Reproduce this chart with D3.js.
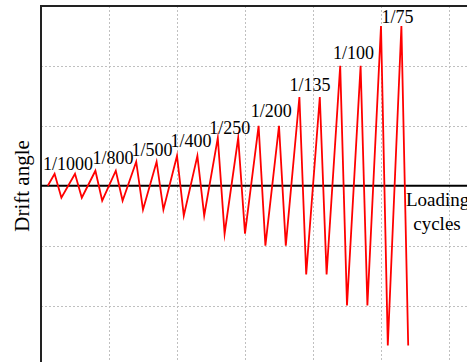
<!DOCTYPE html>
<html>
<head>
<meta charset="utf-8">
<script src="https://cdn.jsdelivr.net/npm/d3@7"></script>
<style>
  body { margin: 0; background: #fff; }
  svg { display: block; }
  .grid line { stroke: #c0c0c0; stroke-width: 1; stroke-dasharray: 2,2; }
  text { font-family: "Liberation Serif", "Times New Roman", serif; fill: #000; }
</style>
</head>
<body>
<div id="chart"></div>
<script>
// drift levels (two cycles each)
const levelNames = ['1/1000', '1/800', '1/500', '1/400', '1/250', '1/200', '1/135', '1/100', '1/75'];
const levelValues = [1 / 1000, 1 / 800, 1 / 500, 1 / 400, 1 / 250, 1 / 200, 1 / 135, 1 / 100, 1 / 75];
const cyclesPerLevel = 2;
// time axis: start, first peak, spacing between cycles, peak→trough lag
const tStart = 0.1;
const tFirstPeak = 0.2;
const tCycle = 0.3;
const tLag = 0.1;
const xGrid = [1, 2, 3, 4, 5, 6];
const yGrid = [-0.01, -0.005, 0.005, 0.01];

// label nudges in px relative to the first peak of each level (layout only)
const labelDx = [-11.6, -3, -4.7, -6.4, -8.5, -7.8, -9.9, -7.2, 0.4];
const labelDy = [-3.7, -6.4, -5.7, -9, -3.7, -9.2, -6, -6.6, -3.2];

const W = 467, H = 362;
const marginLeft = 41, marginTop = 6;

const svg = d3.select('#chart').append('svg')
  .attr('width', W)
  .attr('height', H);

const x = d3.scaleLinear().domain([0, 7]).range([marginLeft, marginLeft + 68 * 7]);
const y = d3.scaleLinear().domain([-0.015, 0.015]).range([365.4, marginTop]);

// build the loading history
const points = [{ t: tStart, v: 0 }];
levelValues.forEach((v, i) => {
  for (let c = 0; c < cyclesPerLevel; c++) {
    const k = i * cyclesPerLevel + c;
    const tp = tFirstPeak + k * tCycle;
    points.push({ t: tp, v: v });
    points.push({ t: tp + tLag, v: -v });
  }
});

// grid
const grid = svg.append('g').attr('class', 'grid');
grid.selectAll('.gx').data(xGrid).enter().append('line')
  .attr('x1', d => Math.round(x(d)) + 0.5).attr('x2', d => Math.round(x(d)) + 0.5)
  .attr('y1', marginTop).attr('y2', H);
grid.selectAll('.gy').data(yGrid).enter().append('line')
  .attr('x1', marginLeft).attr('x2', W)
  .attr('y1', d => Math.round(y(d)) + 0.5).attr('y2', d => Math.round(y(d)) + 0.5);

// frame
svg.append('line')
  .attr('x1', marginLeft).attr('x2', W)
  .attr('y1', marginTop).attr('y2', marginTop)
  .attr('stroke', '#222').attr('stroke-width', 2);
svg.append('line')
  .attr('x1', marginLeft).attr('x2', marginLeft)
  .attr('y1', marginTop - 1).attr('y2', H)
  .attr('stroke', '#222').attr('stroke-width', 2);

// zero axis
svg.append('line')
  .attr('x1', marginLeft).attr('x2', W)
  .attr('y1', y(0)).attr('y2', y(0))
  .attr('stroke', '#000').attr('stroke-width', 2);

// loading curve
const line = d3.line().x(d => x(d.t)).y(d => y(d.v));
svg.append('path')
  .datum(points)
  .attr('d', line)
  .attr('fill', 'none')
  .attr('stroke', '#ff0000')
  .attr('stroke-width', 1.8)
  .attr('stroke-linejoin', 'miter')
  .attr('stroke-miterlimit', 10);

// level labels
svg.append('g').selectAll('text')
  .data(levelNames)
  .enter().append('text')
  .attr('x', (d, i) => x(tFirstPeak + i * cyclesPerLevel * tCycle) + labelDx[i])
  .attr('y', (d, i) => y(levelValues[i]) + labelDy[i])
  .attr('font-size', 18)
  .text(d => d);

// axis titles
svg.append('text')
  .attr('transform', 'translate(29,186) rotate(-90)')
  .attr('text-anchor', 'middle')
  .attr('font-size', 21)
  .text('Drift angle');

svg.append('text')
  .attr('x', 406).attr('y', 206)
  .attr('font-size', 19)
  .text('Loading');
svg.append('text')
  .attr('x', 437).attr('y', 230)
  .attr('text-anchor', 'middle')
  .attr('font-size', 19)
  .text('cycles');
</script>
</body>
</html>
